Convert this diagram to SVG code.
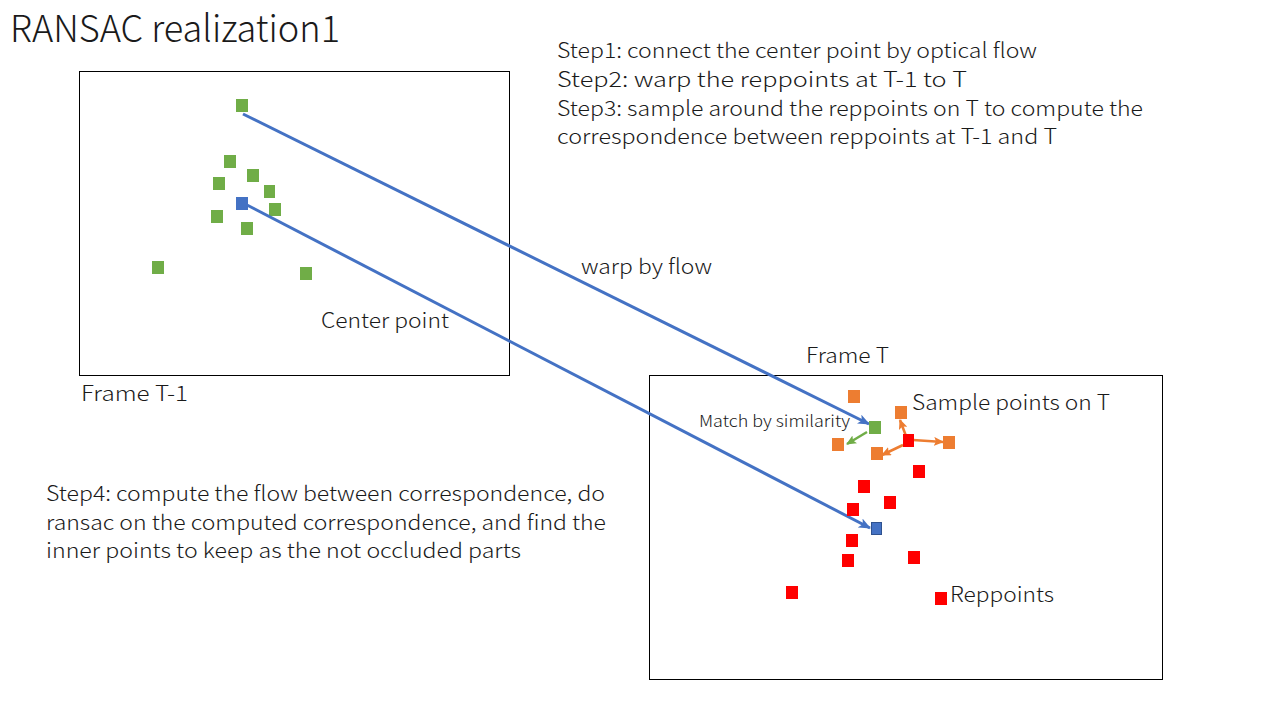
<svg xmlns="http://www.w3.org/2000/svg" width="1280" height="720" viewBox="0 0 1280 720">
<defs>
<style>
text{font-family:"Microsoft YaHei","Noto Sans CJK SC","Noto Sans",sans-serif;font-weight:300;fill:#1a1a1a}
.t16{font-size:21px}
.frame{fill:none;stroke:#000;stroke-width:1}
.g{fill:#70AD47}
.o{fill:#ED7D31}
.r{fill:#FF0000}
.b{fill:#4472C4}
.blue{stroke:#4472C4;stroke-width:3;fill:none}
.gl{stroke:#70AD47;stroke-width:2.5;fill:none}
.ol{stroke:#ED7D31;stroke-width:2.5;fill:none}
</style>
<marker id="ab" markerWidth="12" markerHeight="10" refX="11" refY="5" orient="auto" markerUnits="userSpaceOnUse"><path d="M0,0 L12,5 L0,10 L3,5 Z" fill="#4472C4"/></marker>
<marker id="ag" markerWidth="10" markerHeight="9" refX="9" refY="4.5" orient="auto" markerUnits="userSpaceOnUse"><path d="M0,0 L10,4.5 L0,9 L2,4.5 Z" fill="#70AD47"/></marker>
<marker id="ao" markerWidth="10" markerHeight="9" refX="9" refY="4.5" orient="auto" markerUnits="userSpaceOnUse"><path d="M0,0 L10,4.5 L0,9 L2,4.5 Z" fill="#ED7D31"/></marker>
</defs>
<rect width="1280" height="720" fill="#fff"/>
<text id="title" x="10" y="42" style="font-size:37px" textLength="330" lengthAdjust="spacingAndGlyphs">RANSAC realization1</text>
<g id="steps">
<text class="t16" x="557" y="58" textLength="480" lengthAdjust="spacingAndGlyphs">Step1: connect the center point by optical flow</text>
<text class="t16" x="557" y="87" textLength="410" lengthAdjust="spacingAndGlyphs">Step2: warp the reppoints at T-1 to T</text>
<text class="t16" x="557" y="116" textLength="586" lengthAdjust="spacingAndGlyphs">Step3: sample around the reppoints on T to compute the</text>
<text class="t16" x="557" y="144" textLength="500" lengthAdjust="spacingAndGlyphs">correspondence between reppoints at T-1 and T</text>
</g>
<g id="step4">
<text class="t16" x="46" y="501" textLength="559" lengthAdjust="spacingAndGlyphs">Step4: compute the flow between correspondence, do</text>
<text class="t16" x="46" y="530" textLength="560" lengthAdjust="spacingAndGlyphs">ransac on the computed correspondence, and find the</text>
<text class="t16" x="46" y="558" textLength="475" lengthAdjust="spacingAndGlyphs">inner points to keep as the not occluded parts</text>
</g>
<g id="frameT1">
<rect class="frame" x="79.5" y="71.5" width="430" height="304"/>
<text class="t16" x="81" y="401" textLength="107" lengthAdjust="spacingAndGlyphs">Frame T-1</text>
</g>
<g id="frameT">
<rect class="frame" x="649.5" y="375.5" width="513" height="304"/>
<text class="t16" x="806" y="363" textLength="83" lengthAdjust="spacingAndGlyphs">Frame T</text>
</g>
<g id="points-t1">
<rect class="g" x="236" y="99" width="12" height="13"/>
<rect class="g" x="224" y="155" width="12" height="13"/>
<rect class="g" x="247" y="169" width="12" height="13"/>
<rect class="g" x="213" y="177" width="12" height="13"/>
<rect class="g" x="264" y="185" width="11" height="13"/>
<rect class="g" x="269" y="203" width="12" height="13"/>
<rect class="g" x="211" y="210" width="12" height="13"/>
<rect class="g" x="241" y="222" width="12" height="13"/>
<rect class="g" x="152" y="261" width="12" height="13"/>
<rect class="g" x="300" y="267" width="12" height="13"/>
</g>
<g id="center-t1"><rect class="b" x="236" y="197" width="12" height="13"/></g>
<g id="connectors">
<line class="blue" x1="243" y1="114" x2="869" y2="424" marker-end="url(#ab)"/>
<line class="blue" x1="247" y1="205" x2="870" y2="528" marker-end="url(#ab)"/>
<line class="gl" x1="867" y1="432" x2="847" y2="444" marker-end="url(#ag)"/>
<line class="ol" x1="906" y1="436" x2="900" y2="420" marker-end="url(#ao)"/>
<line class="ol" x1="913" y1="440" x2="943" y2="442" marker-end="url(#ao)"/>
<line class="ol" x1="903" y1="445" x2="882" y2="455" marker-end="url(#ao)"/>
</g>
<g id="samples">
<rect class="o" x="848" y="390" width="12" height="13"/>
<rect class="o" x="895" y="406" width="12" height="13"/>
<rect class="o" x="943" y="436" width="12" height="13"/>
<rect class="o" x="832" y="438" width="12" height="13"/>
<rect class="o" x="871" y="447" width="12" height="13"/>
</g>
<g id="warped-center"><rect class="g" x="869" y="421" width="12" height="13"/></g>
<g id="reppoints">
<rect class="r" x="903" y="434" width="11" height="13"/>
<rect class="r" x="913" y="465" width="12" height="13"/>
<rect class="r" x="858" y="480" width="12" height="13"/>
<rect class="r" x="884" y="496" width="12" height="13"/>
<rect class="r" x="847" y="503" width="12" height="13"/>
<rect class="r" x="846" y="534" width="12" height="13"/>
<rect class="r" x="842" y="554" width="12" height="13"/>
<rect class="r" x="908" y="551" width="12" height="13"/>
<rect class="r" x="786" y="586" width="12" height="13"/>
<rect class="r" x="935" y="592" width="12" height="13"/>
</g>
<g id="center-t"><rect x="871.5" y="522.5" width="10" height="12" fill="#4472C4" stroke="#2F528F" stroke-width="1"/></g>
<g id="labels">
<text class="t16" x="581" y="274" textLength="131" lengthAdjust="spacingAndGlyphs">warp by flow</text>
<text class="t16" x="321" y="328" textLength="128" lengthAdjust="spacingAndGlyphs">Center point</text>
<text class="t16" x="912" y="410" textLength="198" lengthAdjust="spacingAndGlyphs">Sample points on T</text>
<text x="699" y="427" style="font-size:16px" textLength="151" lengthAdjust="spacingAndGlyphs">Match by similarity</text>
<text class="t16" x="950" y="602" textLength="104" lengthAdjust="spacingAndGlyphs">Reppoints</text>
</g>
</svg>
